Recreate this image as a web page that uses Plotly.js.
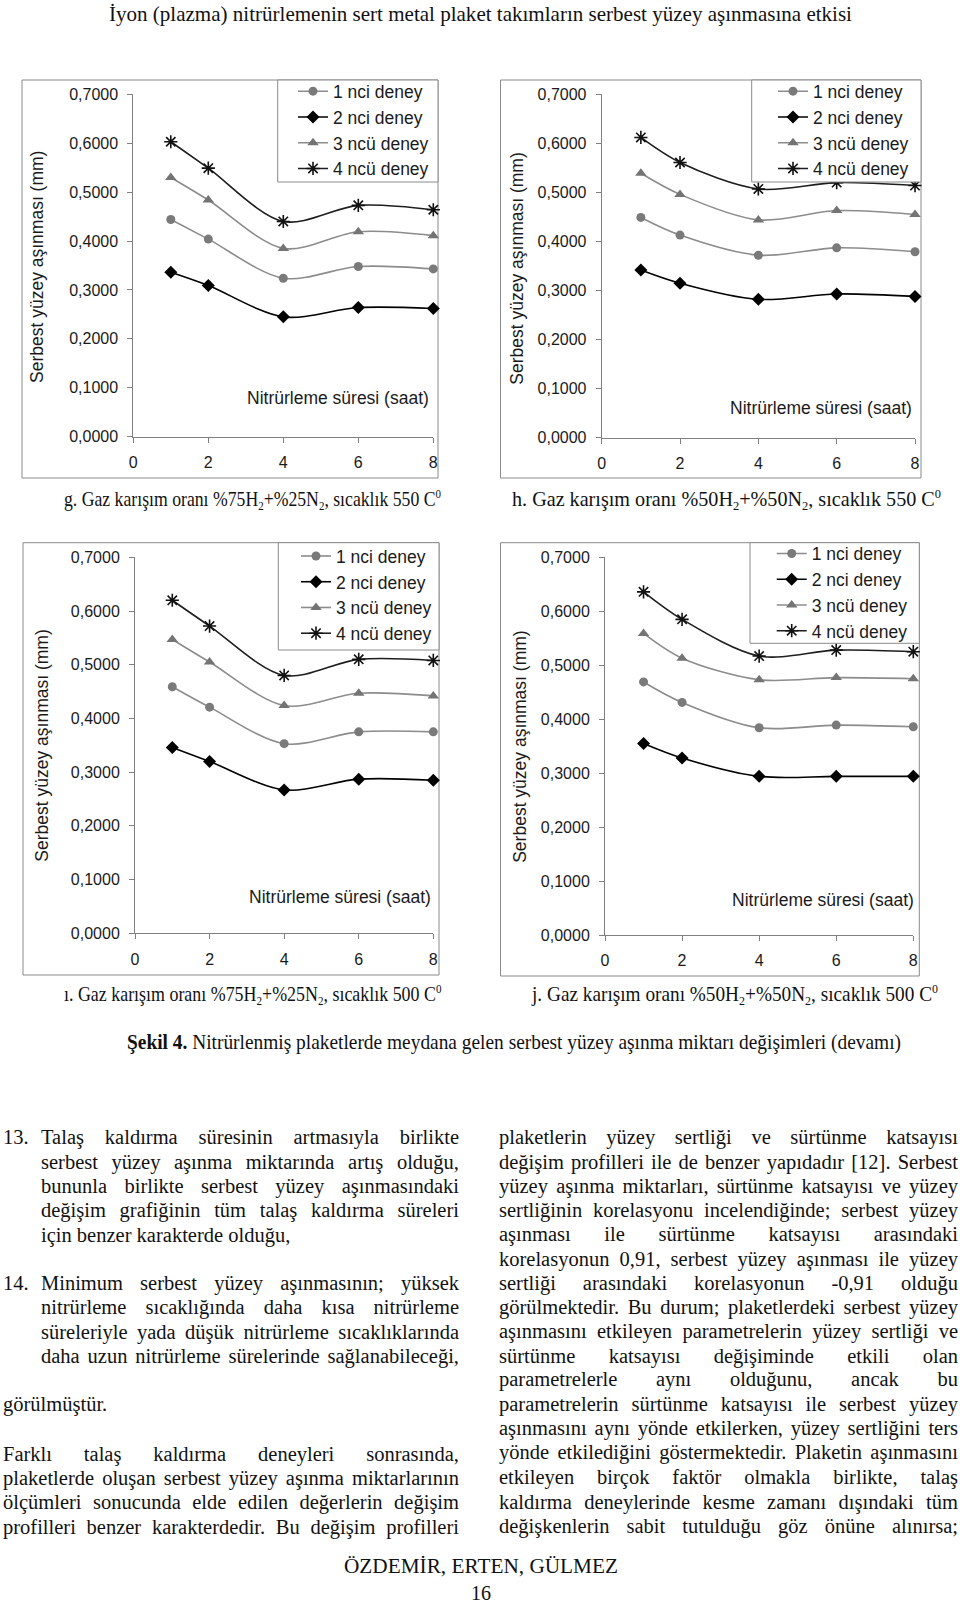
<!DOCTYPE html>
<html>
<head>
<meta charset="utf-8">
<script src="https://cdn.plot.ly/plotly-3.0.1.min.js"></script>
<style>
  html, body { margin:0; padding:0; background:#fff; width:960px; height:1606px; overflow:hidden; }
  #plot { position:absolute; left:0; top:0; width:960px; height:1606px; }
  .t { position:absolute; white-space:nowrap; font-family:"Liberation Serif","Times New Roman",serif; color:#111; }
  .t sub { font-size:0.62em; vertical-align:-0.28em; line-height:0; }
  .t sup { font-size:0.62em; vertical-align:0.6em; line-height:0; }
</style>
</head>
<body>
<div id="plot"></div>
<div id="texts"></div>
<script>
// ---------------- DATA ----------------
const hours = [1, 2, 4, 6, 8];
const seriesNames = ['1 nci deney', '2 nci deney', '3 ncü deney', '4 ncü deney'];
const xTickVals = [0, 2, 4, 6, 8];

// g. %75H2+%25N2, 550 C
const g_deney1 = [0.444, 0.404, 0.324, 0.348, 0.343];
const g_deney2 = [0.336, 0.309, 0.245, 0.264, 0.262];
const g_deney3 = [0.530, 0.484, 0.385, 0.419, 0.411];
const g_deney4 = [0.603, 0.549, 0.440, 0.473, 0.464];

// h. %50H2+%50N2, 550 C
const h_deney1 = [0.449, 0.413, 0.372, 0.387, 0.379];
const h_deney2 = [0.342, 0.315, 0.282, 0.293, 0.288];
const h_deney3 = [0.539, 0.496, 0.444, 0.463, 0.455];
const h_deney4 = [0.612, 0.561, 0.507, 0.520, 0.514];

// ı. %75H2+%25N2, 500 C
const i_deney1 = [0.459, 0.421, 0.353, 0.375, 0.375];
const i_deney2 = [0.346, 0.320, 0.267, 0.287, 0.285];
const i_deney3 = [0.547, 0.505, 0.424, 0.447, 0.442];
const i_deney4 = [0.620, 0.572, 0.480, 0.510, 0.508];

// j. %50H2+%50N2, 500 C
const j_deney1 = [0.469, 0.431, 0.384, 0.389, 0.386];
const j_deney2 = [0.355, 0.328, 0.294, 0.294, 0.294];
const j_deney3 = [0.559, 0.513, 0.473, 0.477, 0.475];
const j_deney4 = [0.636, 0.585, 0.517, 0.528, 0.525];

const yTitle = 'Serbest yüzey aşınması (mm)';
const xTitle = 'Nitrürleme süresi (saat)';

// ---------------- LAYOUT GEOMETRY (pixels) ----------------
const W = 960, H = 1606;
const px = v => v / W;
const py = v => 1 - v / H;

// box: outer frame, plot: axis area, yt/xt: title centres,
// lgBox: legend frame, lgAt: [text start x, first item centre y]
const panels = [
  { series:[g_deney1,g_deney2,g_deney3,g_deney4], box:[22,80,438,478],   plot:[133.3,94.3,433.3,436.7], yt:[37,267],   xt:[338,398],
    lgBox:[277.7,80,438,182],   lgAt:[333,92.7] },
  { series:[h_deney1,h_deney2,h_deney3,h_deney4], box:[500.5,80,921,478], plot:[601.7,94.3,915,437.7],   yt:[516.7,269], xt:[821,408],
    lgBox:[751.7,80,921,182],   lgAt:[813,92.7] },
  { series:[i_deney1,i_deney2,i_deney3,i_deney4], box:[23,542.7,439,975], plot:[135,557.3,433.3,933.3], yt:[41.7,746], xt:[340,897],
    lgBox:[278.3,542.7,439,650], lgAt:[336,557.5] },
  { series:[j_deney1,j_deney2,j_deney3,j_deney4], box:[500.5,542.7,919.3,976], plot:[605,557.3,913.3,935], yt:[519.3,746.5], xt:[822.5,900],
    lgBox:[750,542.7,919.3,643.3], lgAt:[811.7,555] }
];

const styles = [
  { mcolor:'#7a7a7a', lcolor:'#8c8c8c', symbol:'circle',        size:9,  lw:1.6 },
  { mcolor:'#000000', lcolor:'#000000', symbol:'diamond',       size:10, lw:1.6 },
  { mcolor:'#747474', lcolor:'#8c8c8c', symbol:'triangle-up',   size:10, lw:1.6 },
  { mcolor:'#111111', lcolor:'#1e1e1e', symbol:'asterisk-open', size:11, lw:1.6 }
];

const tickFont = { family:'"Liberation Sans", Arial, sans-serif', size:16, color:'#1a1a1a' };
const labelFont = { family:'"Liberation Sans", Arial, sans-serif', size:17.5, color:'#1a1a1a' };
const traces = [];
const layout = {
  width: W, height: H,
  margin: { l:0, r:0, t:0, b:0 },
  paper_bgcolor: '#ffffff', plot_bgcolor: 'rgba(0,0,0,0)',
  separators: ',.',
  font: tickFont,
  showlegend: true,
  shapes: [], annotations: []
};

panels.forEach((p, k) => {
  const n = k === 0 ? '' : String(k + 1);
  const xa = 'x' + n, ya = 'y' + n;
  const lgName = 'legend' + n;
  p.series.forEach((vals, s) => {
    const st = styles[s];
    traces.push({
      type: 'scatter', mode: 'lines+markers',
      x: hours, y: vals, name: seriesNames[s],
      xaxis: xa, yaxis: ya, legend: lgName, legendgroup: 'p' + k + 's' + s,
      cliponaxis: false,
      line: { color: st.lcolor, width: st.lw, shape: 'spline', smoothing: 0.9 },
      marker: { color: st.mcolor, symbol: st.symbol, size: st.size, line: { color: st.mcolor, width: st.symbol === 'asterisk-open' ? 1.6 : 0 } },
      hoverinfo: 'x+y'
    });
  });
  const [x0, y0, x1, y1] = p.plot;
  layout['xaxis' + n] = {
    domain: [px(x0), px(x1)], anchor: ya, range: [0, 8], tickvals: xTickVals,
    ticks: 'outside', ticklen: 5, tickcolor: '#808080', tickwidth: 1,
    showline: true, linecolor: '#808080', linewidth: 1, showgrid: false, zeroline: false,
    tickfont: tickFont, ticklabelstandoff: 6, fixedrange: true
  };
  layout['yaxis' + n] = {
    domain: [py(y1), py(y0)], anchor: xa, range: [0, 0.7], dtick: 0.1, tick0: 0, tickformat: '.4f',
    ticks: 'outside', ticklen: 5, tickcolor: '#808080', tickwidth: 1,
    showline: true, linecolor: '#808080', linewidth: 1, showgrid: false, zeroline: false,
    tickfont: tickFont, ticklabelstandoff: 6, fixedrange: true
  };
  // legend: transparent, positioned so text and rows land where the reference has them
  layout[lgName] = {
    x: px(p.lgAt[0] - 40), y: py(p.lgAt[1] - 19.4), xanchor: 'left', yanchor: 'top',
    xref: 'paper', yref: 'paper',
    bgcolor: 'rgba(0,0,0,0)', borderwidth: 0,
    font: labelFont, tracegroupgap: 0, itemwidth: 30
  };
  const [bx0, by0, bx1, by1] = p.box;
  layout.shapes.push({ type:'rect', xref:'paper', yref:'paper', x0:px(bx0), x1:px(bx1), y0:py(by1), y1:py(by0),
    line:{ color:'#8a8a8a', width:1 }, fillcolor:'rgba(0,0,0,0)', layer:'below' });
  const [lx0, ly0, lx1, ly1] = p.lgBox;
  layout.shapes.push({ type:'rect', xref:'paper', yref:'paper', x0:px(lx0), x1:px(lx1), y0:py(ly1), y1:py(ly0),
    line:{ color:'#8a8a8a', width:1 }, fillcolor:'#ffffff', layer:'above' });
  layout.annotations.push({ xref:'paper', yref:'paper', x:px(p.yt[0]), y:py(p.yt[1]), text:yTitle,
    textangle:-90, showarrow:false, font:labelFont, xanchor:'center', yanchor:'middle' });
  layout.annotations.push({ xref:'paper', yref:'paper', x:px(p.xt[0]), y:py(p.xt[1]), text:xTitle,
    showarrow:false, font:labelFont, xanchor:'center', yanchor:'middle' });
});

Plotly.newPlot('plot', traces, layout, { staticPlot: true, displayModeBar: false });

// ---------------- PAGE TEXT ----------------
const BS = 20.5;
const texts = [
  // [html, left, right, yCenter, size, mode]
  ['İyon (plazma) nitrürlemenin sert metal plaket takımların serbest yüzey aşınmasına etkisi', 109, 852, 15, 22, 'scale'],
  ['g. Gaz karışım oranı %75H<sub>2</sub>+%25N<sub>2</sub>, sıcaklık 550 C<sup>0</sup>', 64, 441, 500, 21, 'scale'],
  ['h. Gaz karışım oranı %50H<sub>2</sub>+%50N<sub>2</sub>, sıcaklık 550 C<sup>0</sup>', 512, 941, 500, 21, 'scale'],
  ['ı. Gaz karışım oranı %75H<sub>2</sub>+%25N<sub>2</sub>, sıcaklık 500 C<sup>0</sup>', 63.5, 441, 995, 21, 'scale'],
  ['j. Gaz karışım oranı %50H<sub>2</sub>+%50N<sub>2</sub>, sıcaklık 500 C<sup>0</sup>', 532, 938, 995, 21, 'scale'],
  ['<b>Şekil 4.</b> Nitrürlenmiş plaketlerde meydana gelen serbest yüzey aşınma miktarı değişimleri (devamı)', 127, 901, 1043, 21, 'scale'],

  ['13.', 3, null, 1138, BS, 'none'],
  ['Talaş kaldırma süresinin artmasıyla birlikte', 41, 459, 1138, BS, 'justify'],
  ['serbest yüzey aşınma miktarında artış olduğu,', 41, 459, 1163, BS, 'justify'],
  ['bununla birlikte serbest yüzey aşınmasındaki', 41, 459, 1187, BS, 'justify'],
  ['değişim grafiğinin tüm talaş kaldırma süreleri', 41, 459, 1211.5, BS, 'justify'],
  ['için benzer karakterde olduğu,', 41, null, 1236, BS, 'none'],
  ['14.', 3, null, 1284, BS, 'none'],
  ['Minimum serbest yüzey aşınmasının; yüksek', 41, 459, 1284, BS, 'justify'],
  ['nitrürleme sıcaklığında daha kısa nitrürleme', 41, 459, 1308, BS, 'justify'],
  ['süreleriyle yada düşük nitrürleme sıcaklıklarında', 41, 459, 1333, BS, 'justify'],
  ['daha uzun nitrürleme sürelerinde sağlanabileceği,', 41, 459, 1357, BS, 'justify'],
  ['görülmüştür.', 3, null, 1405, BS, 'none'],
  ['Farklı talaş kaldırma deneyleri sonrasında,', 3, 459, 1455, BS, 'justify'],
  ['plaketlerde oluşan serbest yüzey aşınma miktarlarının', 3, 459, 1479, BS, 'justify'],
  ['ölçümleri sonucunda elde edilen değerlerin değişim', 3, 459, 1503.5, BS, 'justify'],
  ['profilleri benzer karakterdedir. Bu değişim profilleri', 3, 459, 1528, BS, 'justify'],

  ['plaketlerin yüzey sertliği ve sürtünme katsayısı', 499, 958, 1138, BS, 'justify'],
  ['değişim profilleri ile de benzer yapıdadır [12]. Serbest', 499, 958, 1163, BS, 'justify'],
  ['yüzey aşınma miktarları, sürtünme katsayısı ve yüzey', 499, 958, 1187, BS, 'justify'],
  ['sertliğinin korelasyonu incelendiğinde; serbest yüzey', 499, 958, 1211.5, BS, 'justify'],
  ['aşınması ile sürtünme katsayısı arasındaki', 499, 958, 1235.5, BS, 'justify'],
  ['korelasyonun 0,91, serbest yüzey aşınması ile yüzey', 499, 958, 1260, BS, 'justify'],
  ['sertliği arasındaki korelasyonun -0,91 olduğu', 499, 958, 1284, BS, 'justify'],
  ['görülmektedir. Bu durum; plaketlerdeki serbest yüzey', 499, 958, 1308, BS, 'justify'],
  ['aşınmasını etkileyen parametrelerin yüzey sertliği ve', 499, 958, 1332, BS, 'justify'],
  ['sürtünme katsayısı değişiminde etkili olan', 499, 958, 1357, BS, 'justify'],
  ['parametrelerle aynı olduğunu, ancak bu', 499, 958, 1380.5, BS, 'justify'],
  ['parametrelerin sürtünme katsayısı ile serbest yüzey', 499, 958, 1405.5, BS, 'justify'],
  ['aşınmasını aynı yönde etkilerken, yüzey sertliğini ters', 499, 958, 1429.5, BS, 'justify'],
  ['yönde etkilediğini göstermektedir. Plaketin aşınmasını', 499, 958, 1453.5, BS, 'justify'],
  ['etkileyen birçok faktör olmakla birlikte, talaş', 499, 958, 1478, BS, 'justify'],
  ['kaldırma deneylerinde kesme zamanı dışındaki tüm', 499, 958, 1503, BS, 'justify'],
  ['değişkenlerin sabit tutulduğu göz önüne alınırsa;', 499, 958, 1527, BS, 'justify'],

  ['ÖZDEMİR, ERTEN, GÜLMEZ', 344, 618, 1567, 20.5, 'scale'],
  ['16', 471, 491, 1594, 20.5, 'scale']
];

function layoutTexts() {
  const host = document.getElementById('texts');
  host.innerHTML = '';
  texts.forEach(([html, left, right, yc, size, mode]) => {
    const el = document.createElement('div');
    el.className = 't';
    el.innerHTML = html;
    const lh = Math.round(size * 1.2);
    el.style.fontSize = size + 'px';
    el.style.lineHeight = lh + 'px';
    el.style.left = left + 'px';
    el.style.top = (yc - lh / 2 - 1) + 'px';
    host.appendChild(el);
    if (right == null || mode === 'none') return;
    const w = el.getBoundingClientRect().width;
    const target = right - left;
    if (mode === 'scale') {
      el.style.transformOrigin = '0 50%';
      el.style.transform = 'scaleX(' + (target / w).toFixed(4) + ')';
    } else if (mode === 'justify') {
      const spaces = (el.textContent.match(/ /g) || []).length;
      if (spaces > 0) el.style.wordSpacing = ((target - w) / spaces).toFixed(3) + 'px';
    }
  });
}
if (document.fonts && document.fonts.ready) {
  document.fonts.ready.then(layoutTexts);
} else {
  layoutTexts();
}
</script>
</body>
</html>
